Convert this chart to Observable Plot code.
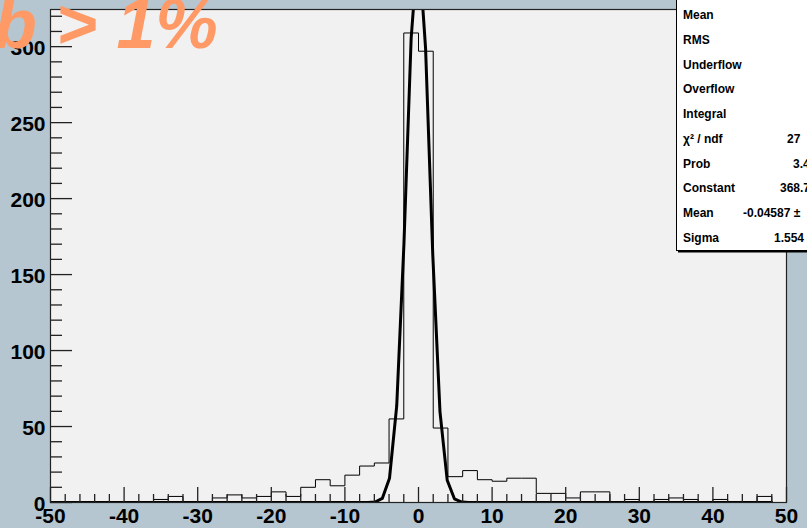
<!DOCTYPE html>
<html>
<head>
<meta charset="utf-8">
<script src="https://cdn.jsdelivr.net/npm/d3@7"></script>
<script src="https://cdn.jsdelivr.net/npm/@observablehq/plot@0.6"></script>
<style>
  html, body { margin: 0; padding: 0; background: #b5c6d0; overflow: hidden; }
  #chart { width: 807px; height: 528px; }
</style>
</head>
<body>
<div id="chart"></div>
<script>
// Histogram: lower bin edges (width 2) and entries per bin
const binLow = [-50, -48, -46, -44, -42, -40, -38, -36, -34, -32,
                -30, -28, -26, -24, -22, -20, -18, -16, -14, -12,
                -10, -8, -6, -4, -2, 0, 2, 4, 6, 8,
                10, 12, 14, 16, 18, 20, 22, 24, 26, 28,
                30, 32, 34, 36, 38, 40, 42, 44, 46, 48];
const counts = [0, 0, 0, 0, 0, 0, 0, 2, 4, 0,
                0, 3, 5, 3, 4, 7, 4, 10, 15, 11,
                18, 24, 26, 55, 309, 297, 49, 17, 21, 15,
                14, 16, 16, 6, 6, 3, 7, 7, 0, 2,
                0, 2, 3, 2, 0, 2, 0, 0, 4, 0];
const binWidth = 2;

// Gaussian fit parameters (as listed in the stats box)
const fitConstant = 368.7;
const fitMean = -0.04587;
const fitSigma = 1.554;
const fitRange = [-50, 48];
const fitNpx = 100;

// Axis ticks
const xMajor = [-50, -40, -30, -20, -10, 0, 10, 20, 30, 40, 50];
const xMinor = [-48, -46, -44, -42, -38, -36, -34, -32, -28, -26, -24, -22,
                -18, -16, -14, -12, -8, -6, -4, -2, 2, 4, 6, 8, 12, 14, 16, 18,
                22, 24, 26, 28, 32, 34, 36, 38, 42, 44, 46, 48];
const yMajor = [0, 50, 100, 150, 200, 250, 300];
const yMinor = [10, 20, 30, 40, 60, 70, 80, 90, 110, 120, 130, 140, 160, 170, 180, 190,
                210, 220, 230, 240, 260, 270, 280, 290, 310, 320];

// Stats box rows
const statNames = ["Mean", "RMS", "Underflow", "Overflow", "Integral",
                   "\u03C7\u00B2 / ndf", "Prob", "Constant", "Mean", "Sigma"];
const statValues = ["", "", "", "", "", "27", "3.4",
                    fitConstant.toFixed(1), fitMean.toFixed(5) + " \u00B1", fitSigma.toFixed(3)];
const statValueX = [0, 0, 0, 0, 0, 787, 793, 780, 743, 774];

const titleText = "b > 1%";

// Step outline of the histogram
const outline = [{x: binLow[0], y: 0}];
binLow.forEach((x0, i) => {
  outline.push({x: x0, y: counts[i]});
  outline.push({x: x0 + binWidth, y: counts[i]});
});
outline.push({x: binLow[binLow.length - 1] + binWidth, y: 0});

// Fit function evaluated on its drawing grid
const gaus = x => fitConstant * Math.exp(-0.5 * ((x - fitMean) / fitSigma) ** 2);
const fitPts = d3.range(fitNpx + 1).map(i => {
  const x = fitRange[0] + i * (fitRange[1] - fitRange[0]) / fitNpx;
  return {x, y: gaus(x)};
});

const tickFont = {fontFamily: "'Liberation Sans', Arial, sans-serif",
                  fontWeight: "bold", fontSize: 21, tickFormat: d => String(d)};

const chart = Plot.plot({
  width: 807,
  height: 528,
  marginLeft: 50,
  marginRight: 21,
  marginTop: 9,
  marginBottom: 26,
  style: {background: "transparent", color: "#000"},
  x: {domain: [-50, 50], axis: null, label: null},
  y: {domain: [0, 1.05 * d3.max(counts)], axis: null, label: null},
  marks: [
    Plot.frame({fill: "#f1f1f1", stroke: null}),
    Plot.line(outline, {x: "x", y: "y", stroke: "#000", strokeWidth: 1}),
    Plot.line(fitPts, {x: "x", y: "y", stroke: "#000", strokeWidth: 3, strokeLinejoin: "round", clip: true}),
    // ticks drawn inward
    Plot.axisX(xMajor, {tickSize: -15, fill: "none", stroke: "#222", strokeWidth: 1.3}),
    Plot.axisX(xMinor, {tickSize: -8, fill: "none", stroke: "#222", strokeWidth: 1.3}),
    Plot.axisY(yMajor, {tickSize: -22, fill: "none", stroke: "#222", strokeWidth: 1.3}),
    Plot.axisY(yMinor, {tickSize: -12, fill: "none", stroke: "#222", strokeWidth: 1.3}),
    Plot.axisX(xMajor, {tickSize: 0, tickPadding: 6, ariaLabel: "x-labels", ...tickFont}),
    Plot.axisY(yMajor, {tickSize: 0, tickPadding: 5, dy: 2, ariaLabel: "y-labels", ...tickFont}),
    Plot.frame({stroke: "#222", strokeWidth: 1.2})
  ]
});
document.getElementById("chart").appendChild(chart);

const svg = d3.select(chart);

// Condensed tick labels: fixed advance per glyph
svg.selectAll("g[aria-label='x-labels'] text, g[aria-label='y-labels'] text").each(function () {
  const s = this.textContent;
  let w = 0;
  for (const c of s) w += c === "-" ? 5.2 : 9.4;
  this.setAttribute("textLength", w);
  this.setAttribute("lengthAdjust", "spacingAndGlyphs");
});

// Title
svg.append("text")
  .attr("x", -6).attr("y", 48)
  .attr("text-anchor", "start")
  .attr("fill", "#ff9966")
  .style("font", "italic bold 70px 'Liberation Sans', Arial, sans-serif")
  .text(titleText);

// Stats box
const box = svg.append("g").attr("text-anchor", "start");
box.append("rect").attr("x", 678).attr("y", -4).attr("width", 140).attr("height", 256.5).attr("fill", "#000");
box.append("rect").attr("x", 676.5).attr("y", -4).attr("width", 140).attr("height", 254.5)
  .attr("fill", "#fff").attr("stroke", "#000").attr("stroke-width", 1);
statNames.forEach((name, i) => {
  const y = 15 + i * 24.7 + 4.3;
  box.append("text").attr("x", 683).attr("y", y)
    .style("font", "bold 12px 'Liberation Sans', Arial, sans-serif").text(name);
  if (statValues[i]) {
    box.append("text").attr("x", statValueX[i]).attr("y", y)
      .style("font", "bold 12px 'Liberation Sans', Arial, sans-serif").text(statValues[i]);
  }
});
</script>
</body>
</html>
